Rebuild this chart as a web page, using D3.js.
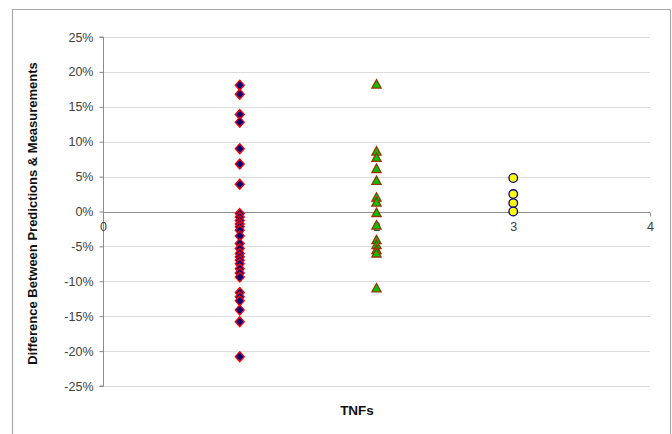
<!DOCTYPE html>
<html><head><meta charset="utf-8">
<script src="https://cdn.jsdelivr.net/npm/d3@7/dist/d3.min.js"></script>
<style>body{margin:0;background:#fff}svg{display:block}text{font-family:"Liberation Sans",Arial,sans-serif}</style>
</head><body><svg id="c" width="672" height="434"></svg>
<script>
const yTicks = [-0.25,-0.20,-0.15,-0.10,-0.05,0,0.05,0.10,0.15,0.20,0.25];
const xTicks = [0,1,2,3,4];
const diamondX = 1;
const diamondY = [0.181,0.168,0.139,0.128,0.090,0.068,0.039,-0.003,-0.008,-0.013,-0.018,-0.022,-0.027,-0.035,-0.046,-0.053,-0.060,-0.065,-0.070,-0.075,-0.082,-0.088,-0.094,-0.116,-0.122,-0.128,-0.141,-0.158,-0.208];
const triangleX = 2;
const triangleY = [0.182,0.086,0.077,0.061,0.044,0.020,0.013,-0.002,-0.020,-0.041,-0.048,-0.055,-0.060,-0.110];
const circleX = 3;
const circleY = [0.048,0.025,0.012,0.000];

const svg = d3.select("#c");
const L = 103, R = 650, T = 37, B = 386;
const x = d3.scaleLinear().domain([0,4]).range([L,R]);
const y = d3.scaleLinear().domain([-0.25,0.25]).range([B,T]);
const FF = "Liberation Sans, Arial, sans-serif";

// outer frame
svg.append("path").attr("d","M12.5,440 V9.5 H670.5 V440").attr("fill","none").attr("stroke","#a8a8a8").attr("stroke-width",1.2);

// gridlines
svg.append("g").selectAll("line").data(yTicks.filter(d=>d!==0)).join("line")
  .attr("x1",L).attr("x2",R).attr("y1",d=>Math.round(y(d))+0.5).attr("y2",d=>Math.round(y(d))+0.5)
  .attr("stroke","#dcdcdc");

// y axis
const yAxis = d3.axisLeft(y).tickValues(yTicks).tickSize(4).tickPadding(6)
  .tickFormat(d => Math.round(d*100) + "%");
const gy = svg.append("g").attr("transform",`translate(${L+0.5},0)`).call(yAxis);
gy.select(".domain").attr("stroke","#8c8c8c").attr("d",`M-4,${T}H0V${B}H-4`);
gy.selectAll(".tick line").attr("stroke","#8c8c8c");
gy.selectAll("text").attr("font-size",12.5).attr("fill","#404040").attr("font-family",FF);

// x axis at y=0
const xAxis = d3.axisBottom(x).tickValues(xTicks).tickSize(4).tickPadding(6).tickFormat(d => String(d));
const gx = svg.append("g").attr("transform",`translate(0,${Math.round(y(0))+0.5})`).call(xAxis);
gx.select(".domain").attr("stroke","#8c8c8c").attr("d",`M${L},0H${R}`);
gx.selectAll(".tick line").attr("stroke","#8c8c8c");
gx.selectAll("text").attr("font-size",12.5).attr("fill","#404040").attr("font-family",FF);

// titles
svg.append("text").attr("transform",`translate(37,${y(0)+2}) rotate(-90)`).attr("text-anchor","middle")
  .attr("font-size",13).attr("font-weight","bold").attr("fill","#111").text("Difference Between Predictions & Measurements");
svg.append("text").attr("x",357).attr("y",415).attr("text-anchor","middle")
  .attr("font-size",13.5).attr("font-weight","bold").attr("fill","#111").text("TNFs");

// series
const g = svg.append("g");
g.selectAll(".d").data(diamondY).join("path").attr("class","d")
  .attr("transform",d=>`translate(${x(diamondX)},${y(d)})`)
  .attr("d","M0,-5L4.5,0L0,5L-4.5,0Z").attr("fill","#000080").attr("stroke","#ff0000").attr("stroke-width",1.3);
g.selectAll(".t").data(triangleY).join("path").attr("class","t")
  .attr("transform",d=>`translate(${x(triangleX)},${y(d)})`)
  .attr("d","M0,-4.8L4.6,3.6L-4.6,3.6Z").attr("fill","#00c800").attr("stroke","#993300").attr("stroke-width",1.3);
g.selectAll(".c").data(circleY).join("circle").attr("class","c")
  .attr("cx",x(circleX)).attr("cy",d=>y(d)).attr("r",4.3)
  .attr("fill","#ffff00").attr("stroke","#000080").attr("stroke-width",1.3);
</script></body></html>
